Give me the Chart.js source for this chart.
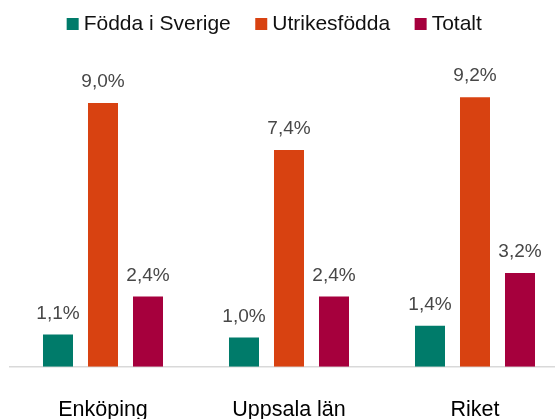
<!DOCTYPE html>
<html>
<head>
<meta charset="utf-8">
<script src="https://cdn.jsdelivr.net/npm/chart.js@4"></script>
<style>
    html, body { margin: 0; padding: 0; background: #fff; }
    #wrap { position: relative; width: 555px; height: 419px; overflow: hidden; }
    #inner { position: absolute; left: -20px; top: 0; width: 600px; height: 419px; }
</style>
</head>
<body>
<div id="wrap"><div id="inner"><canvas id="chart"></canvas></div></div>
<script>
const categories = ['Enköping', 'Uppsala län', 'Riket'];
const seriesNames = ['Födda i Sverige', 'Utrikesfödda', 'Totalt'];
const swedishBorn = [1.1, 1.0, 1.4];
const foreignBorn = [9.0, 7.4, 9.2];
const total = [2.4, 2.4, 3.2];
const colors = ['#007B6A', '#D84211', '#A6003D'];

const fontFamily = '"Liberation Sans", Arial, sans-serif';

// Draw value labels above each bar, Swedish decimal comma
const valueLabels = {
    id: 'valueLabels',
    afterDatasetsDraw(chart) {
        const ctx = chart.ctx;
        ctx.save();
        ctx.font = '19px ' + fontFamily;
        ctx.fillStyle = '#474747';
        ctx.textAlign = 'center';
        ctx.textBaseline = 'middle';
        chart.data.datasets.forEach((ds, i) => {
            chart.getDatasetMeta(i).data.forEach((bar, j) => {
                const txt = ds.data[j].toFixed(1).replace('.', ',') + '%';
                ctx.fillText(txt, bar.x, bar.y - 21);
            });
        });
        ctx.restore();
    }
};

const datasets = [swedishBorn, foreignBorn, total].map((values, i) => ({
    label: seriesNames[i],
    data: values,
    backgroundColor: colors[i],
    categoryPercentage: 0.7258,
    barPercentage: 0.6667
}));

new Chart(document.getElementById('chart').getContext('2d'), {
    type: 'bar',
    data: { labels: categories, datasets: datasets },
    options: {
        responsive: true,
        maintainAspectRatio: false,
        animation: false,
        layout: { padding: { top: -16.5, left: 6, right: 12, bottom: 0 } },
        scales: {
            y: {
                min: 0,
                max: 11,
                ticks: { display: false },
                grid: { display: false },
                border: { display: false },
                afterFit(scale) { scale.width = 24; }
            },
            x: {
                grid: { display: false, drawTicks: false },
                border: { display: true, color: '#D9D9D9', width: 1.5 },
                ticks: {
                    color: '#000',
                    padding: 30,
                    font: { family: fontFamily, size: 21.5 }
                },
                afterFit(scale) { scale.height = 52.3; }
            }
        },
        plugins: {
            legend: {
                position: 'top',
                labels: {
                    usePointStyle: true,
                    pointStyle: 'rect',
                    boxWidth: 1,
                    boxHeight: 12,
                    padding: 30,
                    color: '#111',
                    font: { family: fontFamily, size: 21 }
                }
            },
            tooltip: { enabled: false }
        }
    },
    plugins: [valueLabels]
});
</script>
</body>
</html>
